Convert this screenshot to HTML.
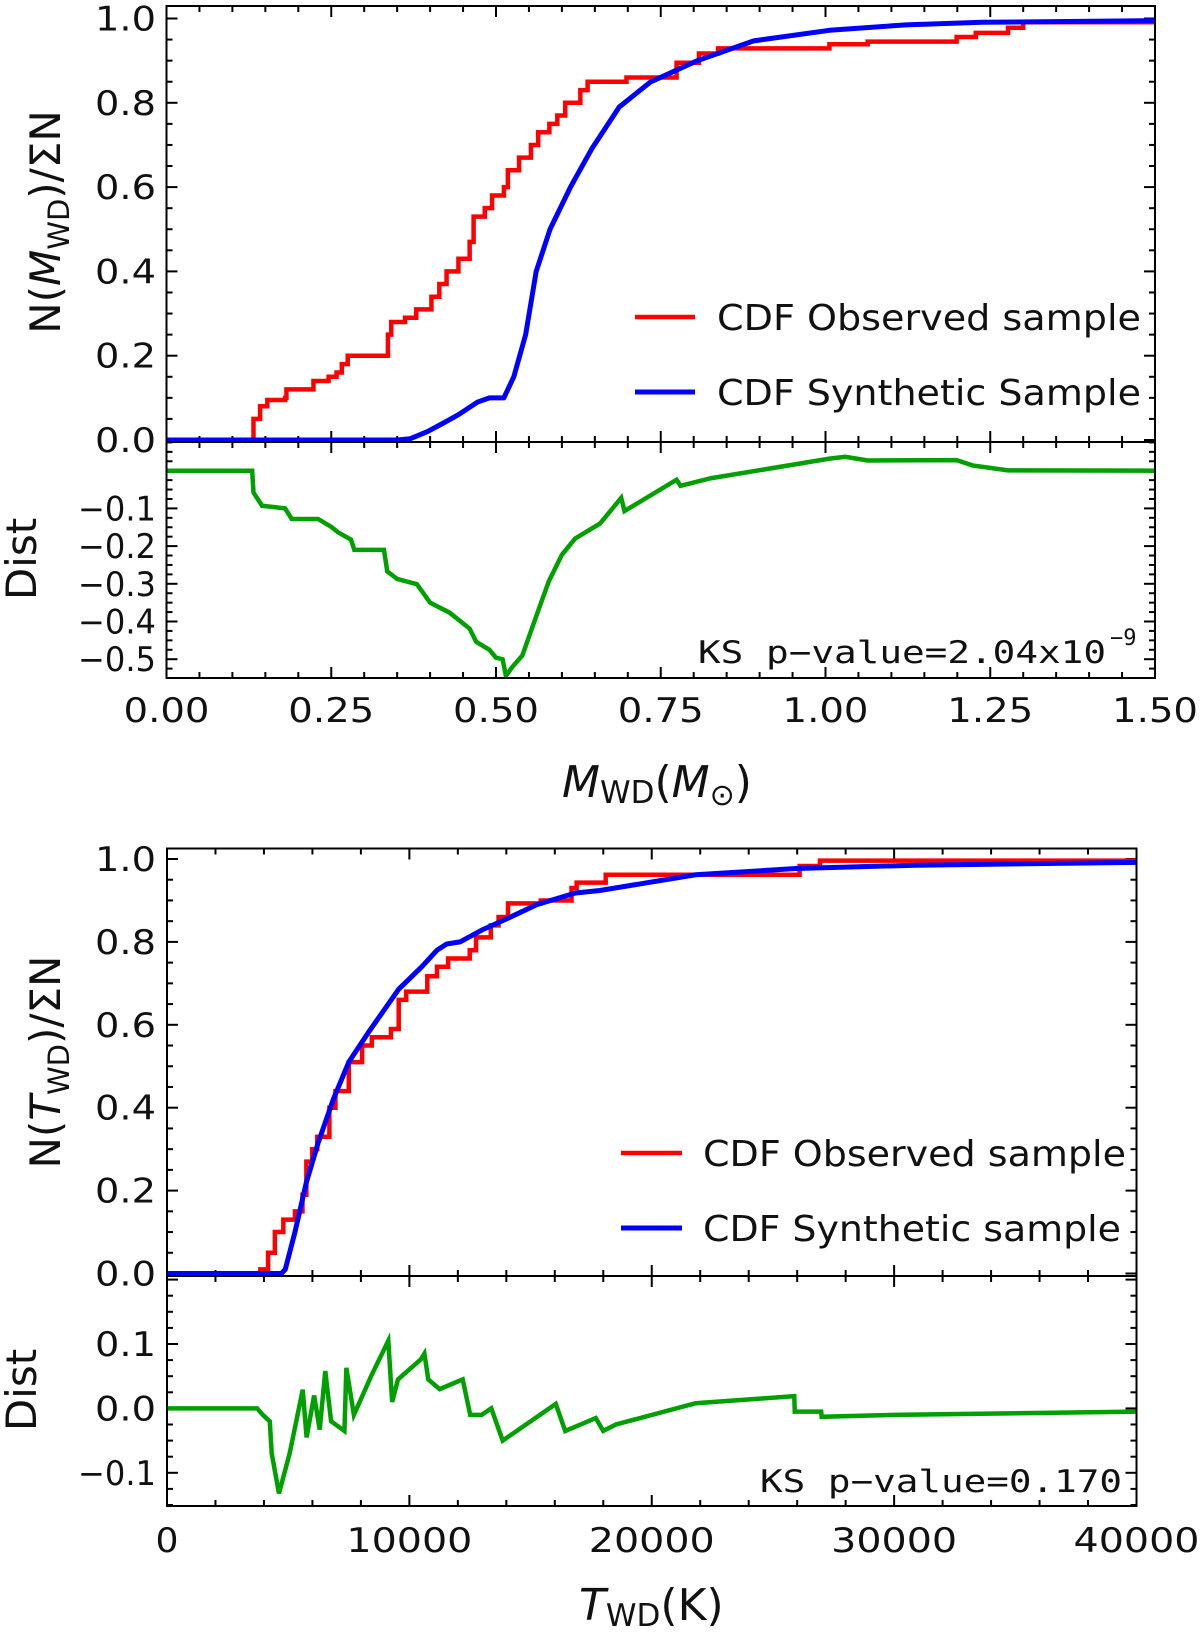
<!DOCTYPE html>
<html><head><meta charset="utf-8"><title>CDF comparison</title>
<style>
html,body{margin:0;padding:0;background:#fff;}
svg{display:block;}
text{font-family:"DejaVu Sans","Liberation Sans",sans-serif;fill:#111;}
.mono{font-family:"DejaVu Sans Mono","Liberation Mono",monospace;}
</style></head>
<body>
<svg id="fig" width="1200" height="1638" viewBox="0 0 1200 1638" xmlns="http://www.w3.org/2000/svg">
<g id="g1"></g>
<g id="g2"></g>
</svg>
<script>
// ===== Panel 1 data: mass CDF =====
const massObsX = [0,0.130,0.132,0.142,0.153,0.180,0.182,0.211,0.223,0.246,0.258,0.266,0.275,0.330,0.336,0.341,0.362,0.379,0.402,0.414,0.425,0.443,0.460,0.466,0.483,0.494,0.512,0.518,0.535,0.553,0.564,0.581,0.593,0.605,0.622,0.628,0.639,0.698,0.774,0.808,0.837,1.006,1.064,1.199,1.228,1.277,1.30,1.50];
const massObsY = [0,0,0.05,0.08,0.095,0.10,0.12,0.12,0.14,0.15,0.16,0.18,0.20,0.20,0.25,0.28,0.29,0.31,0.34,0.37,0.40,0.43,0.47,0.53,0.55,0.58,0.60,0.64,0.67,0.70,0.73,0.75,0.77,0.80,0.80,0.83,0.85,0.86,0.895,0.917,0.929,0.939,0.945,0.956,0.966,0.978,0.991,0.998];
const massSynX = [0,0.35,0.37,0.396,0.420,0.443,0.472,0.49,0.512,0.527,0.545,0.561,0.582,0.613,0.645,0.687,0.734,0.804,0.891,1.006,1.122,1.238,1.50];
const massSynY = [0,0,0.003,0.02,0.04,0.06,0.09,0.10,0.10,0.15,0.25,0.40,0.50,0.60,0.69,0.79,0.849,0.899,0.947,0.972,0.985,0.991,0.995];
const massDistX = [0,0.130,0.132,0.145,0.18,0.19,0.23,0.25,0.26,0.28,0.285,0.33,0.335,0.35,0.38,0.40,0.43,0.46,0.47,0.49,0.50,0.51,0.515,0.525,0.54,0.56,0.58,0.60,0.62,0.658,0.69,0.695,0.774,0.78,0.826,1.006,1.03,1.064,1.199,1.223,1.277,1.50];
const massDistY = [0,0,-0.058,-0.093,-0.10,-0.128,-0.128,-0.149,-0.163,-0.183,-0.21,-0.21,-0.267,-0.287,-0.301,-0.35,-0.377,-0.419,-0.454,-0.475,-0.496,-0.50,-0.544,-0.52,-0.49,-0.391,-0.294,-0.223,-0.18,-0.14,-0.072,-0.107,-0.024,-0.04,-0.02,0.032,0.037,0.027,0.028,0.014,0.001,0.0];
const massXTicks = [0,0.25,0.5,0.75,1.0,1.25,1.5];
const massXTickLabels = ["0.00","0.25","0.50","0.75","1.00","1.25","1.50"];
const cdfYTicks = [0,0.2,0.4,0.6,0.8,1.0];
const cdfYTickLabels = ["0.0","0.2","0.4","0.6","0.8","1.0"];
const massDistTicks = [-0.1,-0.2,-0.3,-0.4,-0.5];
const massDistTickLabels = ["\u22120.1","\u22120.2","\u22120.3","\u22120.4","\u22120.5"];

// ===== Panel 2 data: temperature CDF =====
const tempObsX = [0,3690,3850,4170,4450,4800,5280,5590,5750,5990,6200,6700,6950,7500,8050,8450,9240,9560,9870,10740,11140,11600,12490,12750,13360,13680,14070,15420,16690,16900,18100,26070,26100,26940,40000];
const tempObsY = [0,0,0.01,0.05,0.10,0.13,0.15,0.19,0.27,0.30,0.33,0.40,0.44,0.51,0.55,0.57,0.59,0.66,0.68,0.717,0.74,0.76,0.78,0.811,0.84,0.86,0.893,0.90,0.93,0.943,0.962,0.962,0.983,0.996,0.996];
const tempSynX = [0,4720,4880,5280,5750,6230,6860,7500,8290,9560,10510,11140,11540,12090,13040,13990,15260,16850,17860,21810,25950,30900,40000];
const tempSynY = [0,0,0.01,0.10,0.22,0.314,0.42,0.51,0.58,0.686,0.74,0.78,0.795,0.80,0.83,0.855,0.89,0.918,0.924,0.962,0.977,0.985,0.992];
const tempDistX = [0,3720,3950,4240,4320,4620,5060,5600,5760,6070,6300,6530,6770,7320,7400,7710,7950,8420,9130,9290,9530,10470,10620,10780,11250,12200,12510,12980,13380,13850,16040,16430,17690,18000,18520,21810,25880,25900,26990,27010,30000,40000];
const tempDistY = [0,0,-0.01,-0.02,-0.07,-0.132,-0.07,0.029,-0.045,0.02,-0.033,0.058,-0.02,-0.035,0.063,-0.01,0.01,0.05,0.105,0.01,0.045,0.076,0.085,0.045,0.03,0.045,-0.01,-0.01,0.0,-0.05,0.007,-0.035,-0.015,-0.035,-0.025,0.008,0.019,-0.005,-0.005,-0.013,-0.01,-0.005];
const tempXTicks = [0,10000,20000,30000,40000];
const tempXTickLabels = ["0","10000","20000","30000","40000"];
const tempDistTicks = [0.1,0.0,-0.1];
const tempDistTickLabels = ["0.1","0.0","\u22120.1"];

const NS = "http://www.w3.org/2000/svg";
function mk(parent, tag, attrs, txt){
  const e = document.createElementNS(NS, tag);
  for (const k in attrs) e.setAttribute(k, attrs[k]);
  if (txt !== undefined) e.textContent = txt;
  parent.appendChild(e);
  return e;
}
function linScale(d0,d1,r0,r1){ return v => r0 + (v-d0)*(r1-r0)/(d1-d0); }
function pathFrom(xs, ys, sx, sy){
  let d = "";
  for (let i=0;i<xs.length;i++) d += (i?"L":"M") + sx(xs[i]).toFixed(2) + "," + sy(ys[i]).toFixed(2);
  return d;
}
function stepFrom(xs, ys, sx, sy){
  let d = "M" + sx(xs[0]).toFixed(2) + "," + sy(ys[0]).toFixed(2);
  for (let i=1;i<xs.length;i++){
    d += "L" + sx(xs[i]).toFixed(2) + "," + sy(ys[i-1]).toFixed(2);
    d += "L" + sx(xs[i]).toFixed(2) + "," + sy(ys[i]).toFixed(2);
  }
  return d;
}

function buildPanel(g, cfg){
  const sx = linScale(cfg.xmin, cfg.xmax, cfg.x0, cfg.x1);
  const sy = linScale(0, 1, cfg.cdfZero, cfg.cdfOne);
  const sd = linScale(0, 0.1, cfg.distZero, cfg.distZero - cfg.distPer);
  const defs = mk(g,'defs',{});
  const c1 = mk(defs,'clipPath',{id:cfg.id+'c1'});
  mk(c1,'rect',{x:cfg.x0,y:cfg.top,width:cfg.x1-cfg.x0,height:cfg.split-cfg.top+3});
  const c2 = mk(defs,'clipPath',{id:cfg.id+'c2'});
  mk(c2,'rect',{x:cfg.x0,y:cfg.split,width:cfg.x1-cfg.x0,height:cfg.bottom-cfg.split});

  const tk = mk(g,'g',{stroke:'#000','stroke-width':2});
  
  
  for (let v=cfg.xmin; v<=cfg.xmax+1e-9; v+=cfg.xminor){
    const major = Math.abs(v/cfg.xmajor - Math.round(v/cfg.xmajor))<1e-6;
    const L = major?11:6, x = sx(v);
    [[cfg.top,1],[cfg.split,-1],[cfg.split,1],[cfg.bottom,-1]].forEach(([y,dir])=>{
      mk(tk,'line',{x1:x,x2:x,y1:y,y2:y+dir*L});
    });
  }
  for (let v=0; v<=1.0001; v+=0.05){
    const major = Math.abs(v/0.2 - Math.round(v/0.2))<1e-6;
    const L = major?11:6, y = sy(v);
    mk(tk,'line',{x1:cfg.x0,x2:cfg.x0+L,y1:y,y2:y});
    mk(tk,'line',{x1:cfg.x1,x2:cfg.x1-L,y1:y,y2:y});
  }
  const dTop = (cfg.distZero-cfg.split)/cfg.distPer*0.1, dBot = (cfg.distZero-cfg.bottom)/cfg.distPer*0.1;
  for (let k=Math.ceil(dBot/0.025); k*0.025<=dTop; k++){
    const v = k*0.025, major = (k%4===0), L = major?11:6, y = sd(v);
    mk(tk,'line',{x1:cfg.x0,x2:cfg.x0+L,y1:y,y2:y});
    mk(tk,'line',{x1:cfg.x1,x2:cfg.x1-L,y1:y,y2:y});
  }

  const g1 = mk(g,'g',{'clip-path':'url(#'+cfg.id+'c1)'});
  const red = mk(g1,'path',{d:stepFrom(cfg.obsX,cfg.obsY,sx,sy),fill:'none',stroke:'#ff0000','stroke-width':4.5,'stroke-linejoin':'miter'});
  
  
  const blue = mk(g1,'path',{d:pathFrom(cfg.synX,cfg.synY,sx,sy),fill:'none',stroke:'#0000ff','stroke-width':5,'stroke-linejoin':'round'});
  
  
  const g2 = mk(g,'g',{'clip-path':'url(#'+cfg.id+'c2)'});
  const green = mk(g2,'path',{d:pathFrom(cfg.distX,cfg.distY,sx,sd),fill:'none',stroke:'#00a000','stroke-width':4.5});
  
  

  const fr = mk(g,'g',{fill:'none',stroke:'#000','stroke-width':2});
  mk(fr,'rect',{x:cfg.x0,y:cfg.top,width:cfg.x1-cfg.x0,height:cfg.bottom-cfg.top});
  mk(fr,'line',{x1:cfg.x0,x2:cfg.x1,y1:cfg.split,y2:cfg.split});

  cfg.xTicks.forEach((v,i)=>{
    const t = mk(g,'text',{x:sx(v),y:cfg.xLabBase,'font-size':34,'text-anchor':'middle',textLength:cfg.xLabW[i],lengthAdjust:'spacingAndGlyphs'}, cfg.xTickLabels[i]);
    
    
  });
  cdfYTicks.forEach((v,i)=>{
    const t = mk(g,'text',{x:156,y:sy(v)+12,'font-size':34,'text-anchor':'end',textLength:61,lengthAdjust:'spacingAndGlyphs'}, cdfYTickLabels[i]);
    
    
  });
  cfg.distTicks.forEach((v,i)=>{
    const lab = cfg.distTickLabels[i];
    const t = mk(g,'text',{x:156,y:sd(v)+12,'font-size':34,'text-anchor':'end',textLength:lab.length>3?78:61,lengthAdjust:'spacingAndGlyphs'}, lab);
    
    
  });
  return {sx,sy,sd};
}

const g1 = document.getElementById('g1');
buildPanel(g1,{id:'p1',xmin:0,xmax:1.5,x0:166.5,x1:1155,top:6,split:442,bottom:678,
  cdfZero:440,cdfOne:18.5,distZero:470.7,distPer:37.7,xmajor:0.25,xminor:0.05,
  obsX:massObsX,obsY:massObsY,synX:massSynX,synY:massSynY,distX:massDistX,distY:massDistY,
  xTicks:massXTicks,xTickLabels:massXTickLabels,xLabW:[86,86,86,86,86,86,86],xLabBase:722,
  distTicks:massDistTicks,distTickLabels:massDistTickLabels});

const g2 = document.getElementById('g2');
buildPanel(g2,{id:'p2',xmin:0,xmax:40000,x0:167,x1:1136.5,top:848.5,split:1276,bottom:1506,
  cdfZero:1273.5,cdfOne:859,distZero:1408.4,distPer:64.4,xmajor:10000,xminor:2000,
  obsX:tempObsX,obsY:tempObsY,synX:tempSynX,synY:tempSynY,distX:tempDistX,distY:tempDistY,
  xTicks:tempXTicks,xTickLabels:tempXTickLabels,xLabW:[23,126,126,126,126],xLabBase:1552,
  distTicks:tempDistTicks,distTickLabels:tempDistTickLabels});
</script>
<svg style="position:absolute;left:0;top:0" width="1200" height="1638" viewBox="0 0 1200 1638" xmlns="http://www.w3.org/2000/svg">
  <g>
    <line x1="635" y1="317" x2="695" y2="317" stroke="#ff0000" stroke-width="4.5"/>
    <text x="717" y="330" font-size="36" textLength="424" lengthAdjust="spacingAndGlyphs">CDF Observed sample</text>
    <line x1="635" y1="392" x2="695" y2="392" stroke="#0000ff" stroke-width="5"/>
    <text x="717" y="405" font-size="36" textLength="424" lengthAdjust="spacingAndGlyphs">CDF Synthetic Sample</text>
  </g>
  <text class="mono" x="698" y="663" font-size="31" fill="#222"><tspan textLength="408" lengthAdjust="spacingAndGlyphs">KS p−value=2.04x10</tspan><tspan font-size="22" dy="-18" dx="4">−9</tspan></text>
  <text transform="translate(60,222) rotate(-90)" font-size="42" text-anchor="middle">N(<tspan font-style="italic">M</tspan><tspan font-size="29" dy="9">WD</tspan><tspan dy="-9">)/ΣN</tspan></text>
  <text transform="translate(36,559) rotate(-90)" font-size="42" text-anchor="middle">Dist</text>
  <text x="562" y="797" font-size="44"><tspan font-style="italic">M</tspan><tspan font-size="31" dy="6">WD</tspan><tspan dy="-6">(</tspan><tspan font-style="italic">M</tspan><tspan font-size="30" dy="8">⊙</tspan><tspan dy="-8">)</tspan></text>

  <g>
    <line x1="621" y1="1153" x2="682" y2="1153" stroke="#ff0000" stroke-width="4.5"/>
    <text x="703" y="1166" font-size="36" textLength="423" lengthAdjust="spacingAndGlyphs">CDF Observed sample</text>
    <line x1="621" y1="1228" x2="682" y2="1228" stroke="#0000ff" stroke-width="5"/>
    <text x="703" y="1241" font-size="36" textLength="418" lengthAdjust="spacingAndGlyphs">CDF Synthetic sample</text>
  </g>
  <text class="mono" x="760" y="1492" font-size="31" fill="#222" textLength="362" lengthAdjust="spacingAndGlyphs">KS p−value=0.170</text>
  <text transform="translate(60,1062) rotate(-90)" font-size="42" text-anchor="middle">N(<tspan font-style="italic">T</tspan><tspan font-size="29" dy="9">WD</tspan><tspan dy="-9">)/ΣN</tspan></text>
  <text transform="translate(36,1390) rotate(-90)" font-size="42" text-anchor="middle">Dist</text>
  <text x="579" y="1620" font-size="44"><tspan font-style="italic">T</tspan><tspan font-size="31" dy="6">WD</tspan><tspan dy="-6">(K)</tspan></text>
</svg>
</body></html>
